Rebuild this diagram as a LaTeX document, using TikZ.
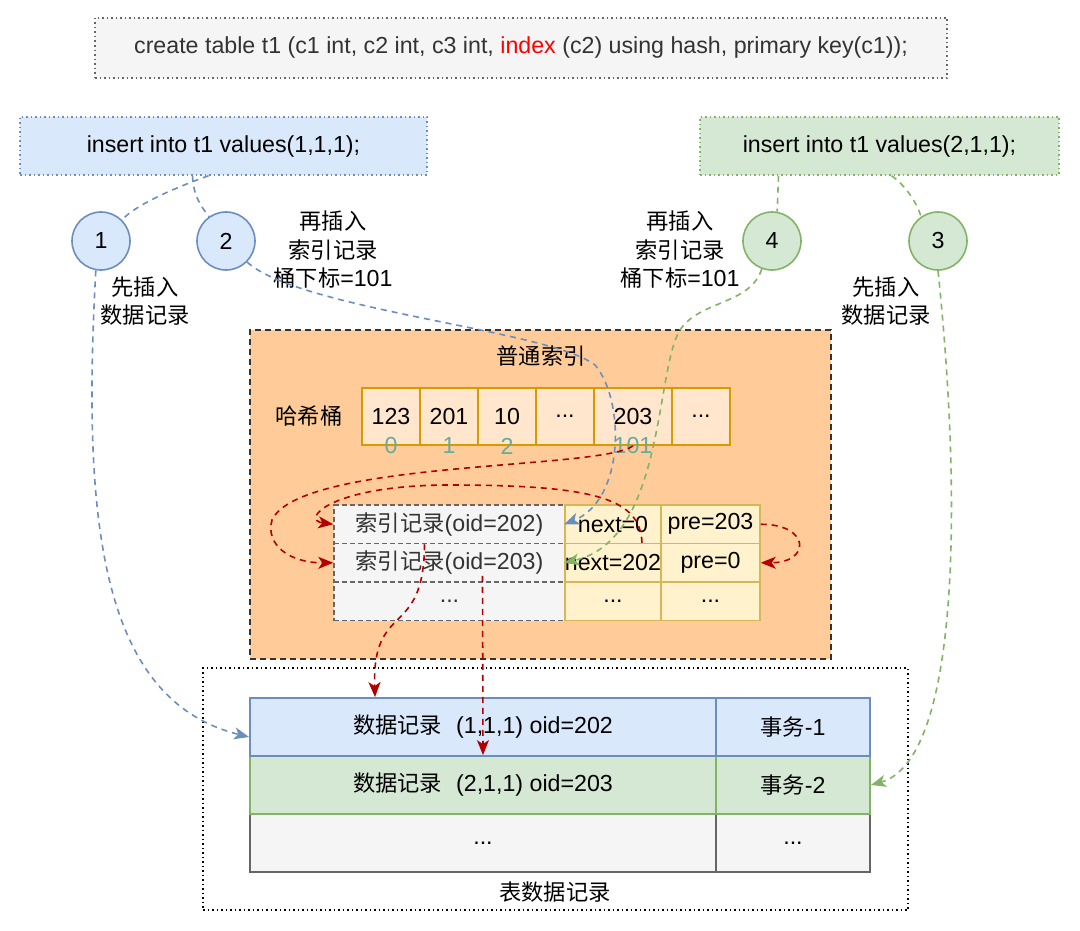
\documentclass[tikz,border=0pt]{standalone}
\usepackage{fontspec}
\setmainfont{Liberation Sans}
\newfontfamily\cjk[Scale=0.96]{Noto Sans CJK SC}
\usetikzlibrary{arrows.meta,calc,positioning}

\definecolor{blueFill}{HTML}{DAE8FC}
\definecolor{blueLine}{HTML}{6C8EBF}
\definecolor{greenFill}{HTML}{D5E8D4}
\definecolor{greenLine}{HTML}{82B366}
\definecolor{grayFill}{HTML}{F5F5F5}
\definecolor{grayLine}{HTML}{666666}
\definecolor{textGray}{HTML}{333333}
\definecolor{orangeFill}{HTML}{FFCC99}
\definecolor{bucketFill}{HTML}{FFE6CC}
\definecolor{bucketLine}{HTML}{D79B00}
\definecolor{yellowFill}{HTML}{FFF2CC}
\definecolor{yellowLine}{HTML}{D6B656}
\definecolor{darkRed}{HTML}{B20000}
\definecolor{tealIdx}{HTML}{67AB9F}

\newcommand{\zhtxt}[1]{{\cjk #1}}

\tikzset{
  every node/.style={font=\fontsize{23.2}{28.5}\selectfont, inner sep=0pt},
  sqlbox/.style={draw, line width=1.5pt, dash pattern=on 1.5pt off 3pt, minimum height=58pt},
  stepcircle/.style={circle, draw, line width=1.6pt, minimum size=58pt},
  bucketcell/.style={draw=bucketLine, fill=bucketFill, line width=1.8pt, minimum width=58pt, minimum height=57pt},
  idxcell/.style={draw=grayLine, fill=grayFill, line width=1.5pt, dash pattern=on 5pt off 3pt, minimum width=231pt, minimum height=38.5pt, text=textGray},
  ptrcell/.style={draw=yellowLine, fill=yellowFill, line width=1.5pt, minimum height=38.5pt},
  rowcell/.style={line width=1.8pt, minimum height=58pt},
  linkflow/.style={line width=1.6pt, dash pattern=on 6pt off 5pt},
  arrowtip/.style={-{Stealth[length=15pt,width=12pt,inset=4pt]}}
}

\begin{document}
\begin{tikzpicture}[x=1pt,y=-1pt]
\useasboundingbox (0,0) rectangle (1080,931);

\node[sqlbox, draw=grayLine, fill=grayFill, minimum width=852pt, minimum height=60pt, text=textGray] (create) at (521,48) {create table t1 (c1 int, c2 int, c3 int, \textcolor{red}{index} (c2) using hash, primary key(c1));};
\node[sqlbox, draw=blueLine, fill=blueFill, minimum width=407pt] (ins1) at (223.5,146) {insert into t1 values(1,1,1);};
\node[sqlbox, draw=greenLine, fill=greenFill, minimum width=359pt] (ins2) at (879.5,146) {insert into t1 values(2,1,1);};

\node[stepcircle, draw=blueLine, fill=blueFill] (c1) at (101,241) {1};
\node[stepcircle, draw=blueLine, fill=blueFill] (c2) at (226,241) {2};
\node[stepcircle, draw=greenLine, fill=greenFill] (c4) at (772,241) {4};
\node[stepcircle, draw=greenLine, fill=greenFill] (c3) at (938,241) {3};

\node[align=center] (note1) at (145,301) {\zhtxt{先插入}\\\zhtxt{数据记录}};
\node[align=center] (note2) at (333,250) {\zhtxt{再插入}\\\zhtxt{索引记录}\\\zhtxt{桶下标}=101};
\node[align=center] (note4) at (680,250) {\zhtxt{再插入}\\\zhtxt{索引记录}\\\zhtxt{桶下标}=101};
\node[align=center] (note3) at (886,301) {\zhtxt{先插入}\\\zhtxt{数据记录}};

\node[draw=textGray, fill=orangeFill, line width=1.6pt, dash pattern=on 6pt off 4pt, minimum width=581pt, minimum height=329pt] (hashidx) at (540.5,494.5) {};
\node (hashtitle) at (541,356) {\zhtxt{普通索引}};
\node (bucketlbl) at (309,416) {\zhtxt{哈希桶}};

\node[bucketcell] (bk0) at (391,416.5) {123};
\node[bucketcell] (bk1) at (449,416.5) {201};
\node[bucketcell] (bk2) at (507,416.5) {10};
\node[bucketcell] (bk3) at (565,416.5) {...};
\node[bucketcell, minimum width=78pt] (bk203) at (633,416.5) {203};
\node[bucketcell] (bk5) at (701,416.5) {...};
\node[text=tealIdx] (ix0) at (391,446) {0};
\node[text=tealIdx] (ix1) at (449,446) {1};
\node[text=tealIdx] (ix2) at (507,446) {2};
\node[text=tealIdx] (ix101) at (633,446) {101};

\node[idxcell] (idx202) at (449.5,524.25) {\zhtxt{索引记录}(oid=202)};
\node[idxcell] (idx203) at (449.5,562.75) {\zhtxt{索引记录}(oid=203)};
\node[idxcell] (idxmore) at (449.5,601.25) {...};
\node[ptrcell, minimum width=96pt] (next0) at (613,524.25) {next=0};
\node[ptrcell, minimum width=96pt] (next202) at (613,562.75) {next=202};
\node[ptrcell, minimum width=96pt] (nextmore) at (613,601.25) {...};
\node[ptrcell, minimum width=99pt] (pre203) at (710.5,524.25) {pre=203};
\node[ptrcell, minimum width=99pt] (pre0) at (710.5,562.75) {pre=0};
\node[ptrcell, minimum width=99pt] (premore) at (710.5,601.25) {...};

\node[draw=black, dash pattern=on 1.5pt off 3pt, line width=1.5pt, minimum width=705pt, minimum height=242pt] (tblframe) at (555.5,789) {};
\node[rowcell, draw=grayLine, fill=grayFill, minimum width=466pt] (data3) at (483,843) {...};
\node[rowcell, draw=grayLine, fill=grayFill, minimum width=154pt] (trx3) at (793,843) {...};
\node[rowcell, draw=greenLine, fill=greenFill, minimum width=466pt] (data2) at (483,785) {\zhtxt{数据记录}\hspace{0.6em}(2,1,1) oid=203};
\node[rowcell, draw=greenLine, fill=greenFill, minimum width=154pt] (trx2) at (793,785) {\zhtxt{事务}-2};
\node[rowcell, draw=blueLine, fill=blueFill, minimum width=466pt] (data1) at (483,727) {\zhtxt{数据记录}\hspace{0.6em}(1,1,1) oid=202};
\node[rowcell, draw=blueLine, fill=blueFill, minimum width=154pt] (trx1) at (793,727) {\zhtxt{事务}-1};
\node (tbllbl) at (555,892) {\zhtxt{表数据记录}};

\draw[linkflow, blueLine] ($(ins1.south)+(-15,0)$) .. controls +(-28,10) and +(14,-16) .. (c1.45);
\draw[linkflow, blueLine] ($(ins1.south)+(-31,0)$) .. controls +(1,20) and +(-9,-12) .. (c2.125);
\draw[linkflow, blueLine, arrowtip] (c1.-100) .. controls (82,520) and (100,700) .. ($(data1.west)+(0,10)$);
\draw[linkflow, blueLine, arrowtip] (c2.-45) .. controls (300,310) and (550,330) .. (595,365) .. controls (625,400) and (625,500) .. (next0.west);

\draw[linkflow, greenLine] ($(ins2.south)+(-101,0)$) -- (c4.80);
\draw[linkflow, greenLine] ($(ins2.south)+(12,0)$) .. controls +(12,8) and +(-4,-15) .. (c3.125);
\draw[linkflow, greenLine, arrowtip] (c4.-110) .. controls (750,305) and (700,300) .. (680,330) .. controls (655,370) and (665,540) .. (next202.west);
\draw[linkflow, greenLine, arrowtip] (c3.-90) .. controls (962,500) and (960,760) .. (trx2.east);

\draw[linkflow, darkRed, arrowtip] (bk203.south) .. controls (600,470) and (300,460) .. (272,520) .. controls (265,545) and (290,563) .. (idx203.west);
\draw[linkflow, darkRed, arrowtip] ($(next202.north)+(29,0)$) .. controls (640,500) and (600,485) .. (450,485) .. controls (330,485) and (300,520) .. (idx202.west);
\draw[linkflow, darkRed, arrowtip] (pre203.east) .. controls +(50,0) and +(50,0) .. (pre0.east);
\draw[linkflow, darkRed, arrowtip] ($(idx202.south)+(-25,0)$) .. controls (424,640) and (372,600) .. ($(data1.north)+(-108,0)$);
\draw[linkflow, darkRed, arrowtip] ($(idx203.south)+(33,-7)$) -- (data2.north);
\end{tikzpicture}
\end{document}
